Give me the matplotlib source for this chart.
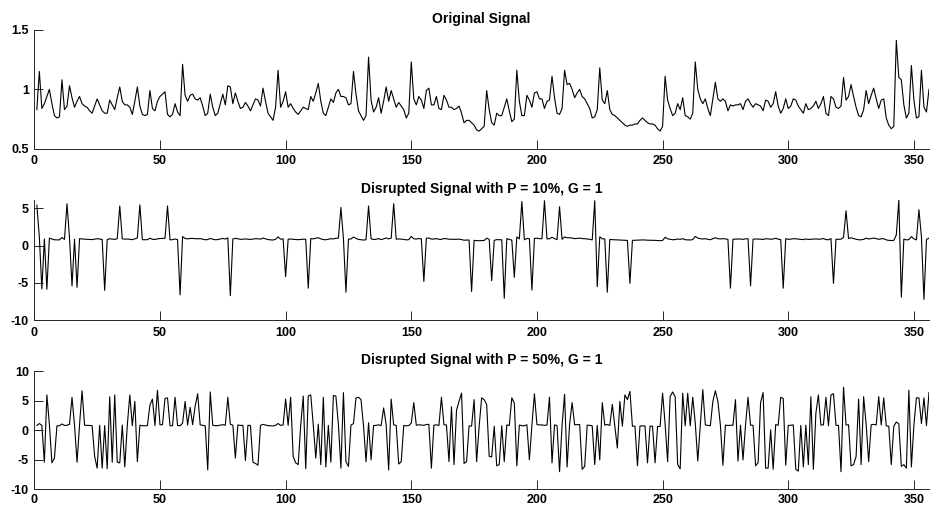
import numpy as np
import matplotlib
matplotlib.use('Agg')
import matplotlib.pyplot as plt

# original signal, samples 1..356
orig = [
    0.83, 1.15, 0.84, 0.88, 0.94, 1.00, 0.88, 0.78, 0.76, 0.77,
    1.08, 0.83, 0.86, 1.03, 0.93, 0.85, 0.90, 0.94, 0.88, 0.86,
    0.85, 0.82, 0.80, 0.86, 0.92, 0.87, 0.82, 0.80, 0.80, 0.91,
    0.87, 0.83, 0.93, 1.02, 0.90, 0.87, 0.87, 0.85, 0.79, 0.90,
    1.02, 0.86, 0.79, 0.78, 0.79, 0.99, 0.84, 0.82, 0.90, 0.94,
    0.96, 0.98, 0.79, 0.77, 0.79, 0.88, 0.81, 0.78, 1.21, 0.95,
    0.90, 0.95, 0.96, 0.92, 0.91, 0.93, 0.86, 0.78, 0.80, 0.96,
    0.85, 0.78, 0.80, 0.88, 0.96, 0.87, 1.03, 1.02, 0.88, 0.97,
    0.90, 0.84, 0.85, 0.89, 0.86, 0.82, 0.87, 0.92, 0.91, 0.86,
    1.01, 0.90, 0.80, 0.77, 0.74, 0.85, 1.16, 0.85, 0.90, 0.98,
    0.85, 0.88, 0.84, 0.81, 0.79, 0.82, 0.85, 0.84, 0.83, 0.94,
    0.90, 0.97, 1.05, 0.90, 0.80, 0.78, 0.85, 0.92, 0.89, 0.97,
    1.00, 0.94, 0.94, 0.93, 0.87, 0.88, 1.15, 0.96, 0.82, 0.78,
    0.74, 0.78, 1.27, 0.91, 0.81, 0.85, 0.93, 0.80, 0.90, 1.02,
    0.90, 0.99, 0.92, 0.85, 0.89, 0.86, 0.83, 0.76, 0.80, 1.23,
    0.92, 0.87, 0.94, 0.91, 0.84, 0.99, 1.01, 0.87, 0.87, 0.94,
    0.84, 0.83, 0.95, 0.91, 0.85, 0.85, 0.83, 0.84, 0.86, 0.80,
    0.72, 0.74, 0.74, 0.72, 0.70, 0.66, 0.65, 0.67, 0.69, 0.99,
    0.83, 0.72, 0.70, 0.80, 0.78, 0.78, 0.85, 0.92, 0.82, 0.73,
    0.75, 1.16, 0.90, 0.78, 0.78, 0.95, 0.91, 0.85, 0.97, 0.98,
    0.92, 0.92, 0.84, 0.90, 0.91, 1.11, 0.93, 0.80, 0.79, 0.84,
    1.16, 1.04, 1.05, 1.00, 0.93, 0.97, 1.00, 0.94, 0.92, 0.88,
    0.84, 0.76, 0.77, 0.83, 1.18, 0.91, 0.88, 0.99, 0.83, 0.79,
    0.78, 0.76, 0.74, 0.72, 0.70, 0.69, 0.70, 0.70, 0.71, 0.71,
    0.74, 0.76, 0.74, 0.72, 0.71, 0.71, 0.70, 0.67, 0.65, 0.69,
    1.11, 0.91, 0.84, 0.78, 0.80, 0.88, 0.83, 0.93, 0.78, 0.77,
    0.75, 0.80, 1.23, 1.00, 0.92, 0.88, 0.92, 0.84, 0.78, 0.92,
    1.06, 0.92, 0.90, 0.92, 0.90, 0.82, 0.87, 0.86, 0.87, 0.87,
    0.88, 0.83, 0.90, 0.92, 0.88, 0.85, 0.88, 0.87, 0.86, 0.82,
    0.91, 0.90, 0.85, 0.88, 0.98, 0.86, 0.80, 0.84, 0.92, 0.84,
    0.86, 0.92, 0.91, 0.86, 0.83, 0.80, 0.88, 0.83, 0.84, 0.86,
    0.90, 0.84, 0.88, 0.94, 0.80, 0.78, 0.94, 0.92, 0.85, 0.84,
    0.86, 1.10, 0.91, 0.94, 1.04, 0.94, 0.85, 0.78, 0.77, 0.83,
    0.99, 0.88, 0.95, 1.01, 0.92, 0.84, 0.91, 0.92, 0.76, 0.70,
    0.67, 0.69, 1.41, 1.10, 1.08, 0.87, 0.76, 0.80, 1.20, 0.91,
    0.76, 0.77, 1.16, 0.85, 0.81, 1.00,
]

# disrupted samples (1-based index, new value), P = 10%
hit10_idx = [1, 3, 5, 13, 15, 17, 28, 34, 42, 53, 58, 78, 100, 109, 122, 124,
             133, 143, 155, 174, 182, 187, 191, 194, 198, 203, 209, 223, 224,
             228, 237, 277, 285, 298, 318, 323, 344, 345, 352, 354]
hit10_val = [5.4, -5.8, -5.85, 5.6, -5.4, -5.6, -6.0, 5.3, 5.45, 5.3, -6.6,
             -6.7, -4.15, -5.7, 5.1, -6.25, 5.3, 5.6, -4.8, -6.15, -4.7, -7.05,
             -4.25, 5.9, -5.95, 6.0, 5.2, 6.0, -5.5, -6.25, -5.05, -5.7, -5.4,
             -5.7, -5.05, 4.65, 6.1, -6.9, 4.8, -7.2]

# disrupted samples, P = 50%
hit50_idx = [4, 5, 7, 8, 15, 17, 19, 24, 25, 27, 29, 30, 31, 32, 33, 34, 36,
             38, 40, 41, 46, 47, 49, 52, 53, 56, 60, 62, 64, 65, 69, 70, 77, 80,
             84, 87, 88, 89, 100, 102, 103, 104, 105, 107, 108, 109, 110, 112,
             114, 115, 116, 118, 119, 120, 122, 123, 124, 125, 128, 129, 130,
             132, 134, 139, 141, 142, 145, 146, 151, 158, 162, 165, 166, 167,
             168, 169, 170, 171, 172, 175, 176, 178, 179, 180, 181, 182, 184,
             185, 187, 190, 191, 192, 197, 199, 205, 206, 209, 211, 212, 214,
             218, 219, 223, 225, 226, 230, 232, 233, 235, 236, 237, 240, 244,
             247, 250, 252, 253, 254, 255, 256, 257, 258, 260, 262, 264, 266,
             270, 271, 272, 274, 279, 280, 282, 284, 287, 288, 289, 290, 291,
             292, 293, 294, 297, 298, 299, 303, 304, 306, 308, 309, 310, 311,
             312, 315, 317, 318, 321, 322, 325, 326, 327, 328, 329, 330, 332,
             336, 338, 341, 345, 346, 347, 348, 349, 351, 352, 354, 356]
hit50_val = [-5.4, 6.0, -5.5, -4.7, 5.6, -5.4, 6.7, -4.4, -6.4, -6.4, -6.5,
             5.7, -5.4, 6.0, -5.4, -5.5, -6.2, 6.0, 4.9, -5.3, 4.3, 5.3, 6.8,
             5.4, 5.5, 5.6, 4.9, 3.9, 4.1, 6.2, -6.7, 6.5, 5.6, -4.7,
             -5.1, -5.4, -5.6, -5.9, 5.3, 5.6, -4.4, -5.5, -5.8, 5.8, -6.5,
             5.8, 6.0, -4.7, -5.8, 5.6, -6.2, -5.4, 5.9, 5.8, -6.4, 6.4,
             -5.3, -6.1, 5.5, 5.6, 5.2, -5.3, -5.0, 3.8, -6.7, 5.3, -5.7,
             -5.3, 4.7, -6.4, 5.6, -5.3, 4.0, -5.8, 3.4, 4.9, 6.3, -5.6,
             -5.3, 5.2, -5.3, 5.5, 5.2, 4.4, -4.4, -4.5, -6.0, -5.8, -5.3,
             5.5, 4.6, -6.0, -5.0, 6.2, 5.6, -5.5, -7.0, 6.1, -6.2, 4.7,
             -6.6, -6.1, -5.8, -5.0, 4.7, 4.4, -3.0, 4.9, 6.0, 5.2, 6.6,
             -6.0, -5.5, -5.5, 6.3, -5.3, 5.7, 6.5, 5.7, -5.8, -6.5, 6.3,
             6.3, 5.6, -5.2, 6.9, 4.9, 6.7, 4.9, -5.9, 5.2, -5.2, -5.0, 5.6,
             -6.0, -5.5, 4.7, 6.4, -6.4, -6.4, 0.1, -6.6, 5.6, 5.4, -5.9,
             -6.6, -6.9, -6.2, -5.8, 5.7, -6.6, 2.9, 6.0, 5.6, 6.0, 6.2,
             -7.0, 7.3, -6.0, -5.8, -4.4, 5.3, -5.8, 5.7, -5.3, 5.7, 5.5,
             -5.8, -6.1, -5.8, -6.4, 6.8, -6.2, 5.5, 5.5, 5.5, 6.4]

titles = ['Original Signal',
          'Disrupted Signal with P = 10%, G = 1',
          'Disrupted Signal with P = 50%, G = 1']
ylims = [(0.5, 1.5), (-10, 6.1), (-10, 10)]
yticks = [[0.5, 1, 1.5], [-10, -5, 0, 5], [-10, -5, 0, 5, 10]]
ytick_labels = [['0.5', '1', '1.5'], ['-10', '-5', '0', '5'],
                ['-10', '-5', '0', '5', '10']]


def disrupt(base, idx, val):
    out = np.array(base, dtype=float)
    out[np.array(idx) - 1] = val
    return out


signals = [np.array(orig), disrupt(orig, hit10_idx, hit10_val),
           disrupt(orig, hit50_idx, hit50_val)]
x = np.arange(1, len(orig) + 1)

plt.rcParams['font.family'] = ['Liberation Sans', 'DejaVu Sans']
plt.rcParams['font.weight'] = 'bold'

fig = plt.figure(figsize=(9.3, 5.08), dpi=100)
boxes = [[0.0369, 0.7067, 0.962, 0.2348],
         [0.0369, 0.3695, 0.962, 0.2368],
         [0.0369, 0.0366, 0.962, 0.2325]]

axcol = '#262626'
for k in range(3):
    ax = fig.add_axes(boxes[k])
    ax.plot(x, signals[k], color='black', lw=0.8)
    ax.set_xlim(0, len(orig))
    ax.set_ylim(*ylims[k])
    ax.set_xticks(np.arange(0, 351, 50))
    ax.set_yticks(yticks[k])
    ax.set_yticklabels(ytick_labels[k])
    ax.set_title(titles[k], fontsize=10, fontweight='bold', pad=5)
    for s in ['top', 'right']:
        ax.spines[s].set_visible(False)
    for s in ['left', 'bottom']:
        ax.spines[s].set_color(axcol)
        ax.spines[s].set_linewidth(0.7)
    ax.tick_params(direction='in', length=6.5, width=0.7, color=axcol,
                   labelsize=9, labelcolor='black')
    ax.tick_params(axis='x', pad=4.5 if k < 2 else 3.5)
    ax.tick_params(axis='y', pad=4)
    for lab in ax.get_xticklabels() + ax.get_yticklabels():
        lab.set_fontweight('bold')

fig.savefig('out.png', dpi=100)
